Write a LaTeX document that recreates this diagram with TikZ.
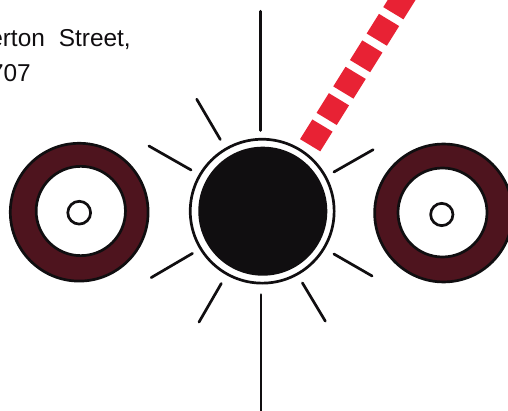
\documentclass[tikz,border=0pt]{standalone}
\usepackage{fontspec}
\setmainfont{Liberation Sans}
\definecolor{wine}{RGB}{78,20,30}
\definecolor{sigred}{RGB}{232,34,52}
\definecolor{ink}{RGB}{16,14,16}
\tikzset{
  ray/.style={draw=ink,line width=2.7pt,line cap=round},
  ringouter/.style={circle,draw=ink,line width=2.7pt,fill=wine,inner sep=0pt,minimum size=#1},
  ringinner/.style={circle,draw=ink,line width=2.7pt,fill=white,inner sep=0pt,minimum size=#1},
  addr/.style={anchor=base east,inner sep=0pt,text=ink,font=\fontsize{24.4pt}{28pt}\selectfont}
}
\begin{document}
\begin{tikzpicture}[x=1pt,y=-1pt]
\useasboundingbox (0,0) rectangle (508,411);
\clip (0,0) rectangle (508,411);
\fill[white] (0,0) rectangle (508,411);
% address text
\node[addr] (line1) at (131,47) {\spaceskip=14pt erton Street,};
\node[addr] (line2) at (31,81.5) {707};
% rings
\node[ringouter=137.8pt] (lo) at (79.2,212.2) {};
\node[ringinner=89.3pt] (li) at (80.8,211) {};
\node[ringinner=22.8pt] (lc) at (79.2,212.7) {};
\node[ringouter=137.9pt] (ro) at (443.6,213) {};
\node[ringinner=89pt] (ri) at (442.5,212.5) {};
\node[ringinner=22.3pt] (rc) at (441.8,214.5) {};
% centre
\node[circle,draw=ink,line width=2.7pt,fill=white,inner sep=0pt,minimum size=143.9pt] (co) at (262.2,211.2) {};
\node[circle,fill=ink,inner sep=0pt,minimum size=129pt] (ci) at (262.8,211.2) {};
% rays
\coordinate (r1a) at (260.5,11.3); \coordinate (r1b) at (260.5,130.5);
\coordinate (r2a) at (196.7,99.2); \coordinate (r2b) at (220.3,139.5);
\coordinate (r3a) at (148.9,146); \coordinate (r3b) at (191.1,170);
\coordinate (r4a) at (151.2,277.6); \coordinate (r4b) at (192.5,253.4);
\coordinate (r5a) at (199,322.1); \coordinate (r5b) at (221.3,283.5);
\coordinate (r6a) at (261,294.6); \coordinate (r6b) at (261,411);
\coordinate (r7a) at (302.4,282.9); \coordinate (r7b) at (325.3,321.1);
\coordinate (r8a) at (333.9,254); \coordinate (r8b) at (372.1,276);
\coordinate (r9a) at (333.9,172); \coordinate (r9b) at (373.1,149.7);
\foreach \k in {1,...,9} {\draw[ray] (r\k a) -- (r\k b);}
% red dashes
\foreach \cx/\cy in {316.3/135.4,332.8/109.1,349.5/82.7,366.2/56.3,382.9/29.8,399.5/3.4}
  \fill[sigred] (\cx-10.1-6.15,\cy-6.1+9.84) -- (\cx-10.1+6.15,\cy-6.1-9.84)
     -- (\cx+10.1+6.15,\cy+6.1-9.84) -- (\cx+10.1-6.15,\cy+6.1+9.84) -- cycle;
\end{tikzpicture}
\end{document}
